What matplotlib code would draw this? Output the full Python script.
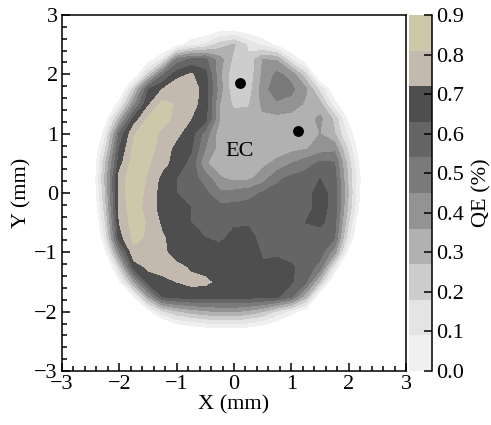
import numpy as np
import matplotlib
matplotlib.use("Agg")
import matplotlib.pyplot as plt
from matplotlib.colors import ListedColormap, BoundaryNorm
from matplotlib.ticker import MultipleLocator

plt.rcParams['font.family'] = ['Liberation Serif', 'DejaVu Serif']
plt.rcParams['mathtext.fontset'] = 'stix'

# measurement grid (mm)
x_mm = [-2.75, -2.5, -2.25, -2.0, -1.75, -1.5, -1.25, -1.0, -0.75, -0.5, -0.25,
        0.0, 0.25, 0.5, 0.75, 1.0, 1.25, 1.5, 1.75, 2.0, 2.25, 2.5]
y_mm = [2.75, 2.5, 2.25, 2.0, 1.75, 1.5, 1.25, 1.0, 0.75, 0.5, 0.25, 0.0,
        -0.25, -0.5, -0.75, -1.0, -1.25, -1.5, -1.75, -2.0, -2.25, -2.5]

# quantum efficiency (%) per scan line, left to right; negative = off cathode
qe_y275 = [-0.3, -0.3, -0.3, -0.3, -0.3, -0.3, -0.3, -0.2, -0.1, -0.08, -0.03, -0.03, -0.07, -0.1, -0.15, -0.2, -0.3, -0.3, -0.3, -0.3, -0.3, -0.3]
qe_y250 = [-0.3, -0.3, -0.3, -0.3, -0.3, -0.25, -0.15, -0.05, 0.05, 0.1, 0.22, 0.28, 0.16, 0.06, -0.03, -0.15, -0.3, -0.3, -0.3, -0.3, -0.3, -0.3]
qe_y225 = [-0.3, -0.3, -0.3, -0.3, -0.3, -0.06, 0.1, 0.48, 0.56, 0.56, 0.4, 0.24, 0.2, 0.36, 0.35, 0.1, -0.08, -0.3, -0.3, -0.3, -0.3, -0.3]
qe_y200 = [-0.3, -0.3, -0.3, -0.3, -0.11, 0.2, 0.52, 0.68, 0.73, 0.66, 0.38, 0.2, 0.2, 0.38, 0.47, 0.42, 0.2, -0.18, -0.3, -0.3, -0.3, -0.3]
qe_y175 = [-0.3, -0.3, -0.3, -0.15, 0.22, 0.62, 0.72, 0.8, 0.77, 0.68, 0.4, 0.2, 0.22, 0.4, 0.52, 0.47, 0.38, 0.15, -0.1, -0.3, -0.3, -0.3]
qe_y150 = [-0.3, -0.3, -0.16, 0.04, 0.42, 0.7, 0.84, 0.8, 0.76, 0.67, 0.36, 0.25, 0.26, 0.38, 0.43, 0.42, 0.34, 0.3, 0.03, -0.12, -0.3, -0.3]
qe_y125 = [-0.3, -0.3, -0.075, 0.3, 0.66, 0.82, 0.86, 0.77, 0.72, 0.66, 0.36, 0.31, 0.31, 0.34, 0.33, 0.31, 0.32, 0.38, 0.25, -0.034, -0.3, -0.3]
qe_y100 = [-0.3, -0.3, 0.06, 0.55, 0.8, 0.87, 0.78, 0.74, 0.67, 0.5, 0.31, 0.31, 0.31, 0.31, 0.31, 0.31, 0.31, 0.36, 0.28, 0.05, -0.13, -0.3]
qe_y075 = [-0.3, -0.19, 0.15, 0.63, 0.83, 0.85, 0.77, 0.69, 0.64, 0.45, 0.32, 0.3, 0.3, 0.31, 0.32, 0.33, 0.35, 0.4, 0.42, 0.15, -0.14, -0.3]
qe_y050 = [-0.3, -0.17, 0.25, 0.68, 0.86, 0.82, 0.75, 0.68, 0.6, 0.37, 0.31, 0.31, 0.32, 0.34, 0.38, 0.45, 0.5, 0.56, 0.55, 0.22, -0.1, -0.3]
qe_y025 = [-0.3, -0.16, 0.28, 0.76, 0.87, 0.8, 0.69, 0.63, 0.58, 0.5, 0.37, 0.33, 0.34, 0.4, 0.52, 0.56, 0.58, 0.63, 0.58, 0.25, -0.06, -0.3]
qe_y000 = [-0.3, -0.17, 0.26, 0.76, 0.87, 0.78, 0.68, 0.63, 0.59, 0.56, 0.47, 0.48, 0.5, 0.55, 0.57, 0.58, 0.6, 0.66, 0.6, 0.26, -0.08, -0.3]
qe_ym025 = [-0.3, -0.2, 0.22, 0.76, 0.86, 0.77, 0.68, 0.67, 0.63, 0.59, 0.57, 0.57, 0.58, 0.58, 0.58, 0.58, 0.6, 0.66, 0.6, 0.24, -0.11, -0.3]
qe_ym050 = [-0.3, -0.25, 0.17, 0.72, 0.85, 0.8, 0.7, 0.68, 0.63, 0.6, 0.59, 0.61, 0.62, 0.58, 0.58, 0.58, 0.63, 0.65, 0.58, 0.18, -0.2, -0.3]
qe_ym075 = [-0.3, -0.3, 0.1, 0.68, 0.83, 0.8, 0.73, 0.68, 0.67, 0.63, 0.6, 0.67, 0.66, 0.6, 0.58, 0.57, 0.58, 0.58, 0.55, 0.1, -0.21, -0.3]
qe_ym100 = [-0.3, -0.3, -0.04, 0.45, 0.79, 0.77, 0.74, 0.68, 0.68, 0.68, 0.68, 0.68, 0.68, 0.62, 0.61, 0.6, 0.58, 0.58, 0.4, -0.055, -0.3, -0.3]
qe_ym125 = [-0.3, -0.3, -0.22, 0.2, 0.66, 0.74, 0.76, 0.74, 0.71, 0.68, 0.68, 0.68, 0.68, 0.64, 0.67, 0.64, 0.6, 0.5, 0.1, -0.26, -0.3, -0.3]
qe_ym150 = [-0.3, -0.3, -0.3, -0.03, 0.35, 0.66, 0.69, 0.72, 0.74, 0.74, 0.69, 0.68, 0.68, 0.68, 0.67, 0.64, 0.55, 0.25, -0.17, -0.3, -0.3, -0.3]
qe_ym175 = [-0.3, -0.3, -0.3, -0.3, -0.02, 0.35, 0.63, 0.66, 0.67, 0.66, 0.66, 0.66, 0.66, 0.65, 0.64, 0.55, 0.3, -0.14, -0.3, -0.3, -0.3, -0.3]
qe_ym200 = [-0.3, -0.3, -0.3, -0.3, -0.3, -0.05, 0.15, 0.25, 0.3, 0.34, 0.36, 0.36, 0.33, 0.27, 0.15, 0.05, -0.075, -0.3, -0.3, -0.3, -0.3, -0.3]
qe_ym225 = [-0.3, -0.3, -0.3, -0.3, -0.3, -0.3, -0.2, -0.06, -0.02, 0.01, 0.03, 0.03, 0.01, -0.03, -0.1, -0.2, -0.3, -0.3, -0.3, -0.3, -0.3, -0.3]
qe_ym250 = [-0.3] * 22

qe_levels = [0.0, 0.09, 0.18, 0.27, 0.36, 0.45, 0.54, 0.63, 0.72, 0.81, 0.90]
qe_colors = ['#f0f0f0', '#e4e4e4', '#cdcdcd', '#b1b1b1', '#939393',
             '#7a7a7a', '#656565', '#4e4e4e', '#c3b9ae', '#cdc8a9']
cbar_ticks = [0.0, 0.1, 0.2, 0.3, 0.4, 0.5, 0.6, 0.7, 0.8, 0.9]

# marked spots and the label of the region
spot_x = [0.1, 1.11]
spot_y = [1.85, 1.05]
region_label = 'EC'
region_xy = (0.1, 0.70)

qe = np.array([qe_y275, qe_y250, qe_y225, qe_y200, qe_y175, qe_y150, qe_y125,
               qe_y100, qe_y075, qe_y050, qe_y025, qe_y000, qe_ym025, qe_ym050,
               qe_ym075, qe_ym100, qe_ym125, qe_ym150, qe_ym175, qe_ym200,
               qe_ym225, qe_ym250])
X, Y = np.meshgrid(np.array(x_mm), np.array(y_mm))

W, H = 491, 425
fig = plt.figure(figsize=(W / 100, H / 100), dpi=100)
ax = fig.add_axes([62 / W, 1 - 371 / H, 344 / W, 356 / H])
cax = fig.add_axes([409 / W, 1 - 371 / H, 23 / W, 356 / H])

cmap = ListedColormap(qe_colors)
norm = BoundaryNorm(qe_levels, cmap.N)
cs = ax.contourf(X, Y, qe, levels=qe_levels, cmap=cmap, norm=norm)

ax.plot(spot_x, spot_y, 'o', color='black', ms=6.8, mec='black')
ax.text(region_xy[0], region_xy[1], region_label, fontsize=16,
        ha='center', va='center')

ax.set_xlim(-3, 3)
ax.set_ylim(-3, 3)
ax.xaxis.set_major_locator(MultipleLocator(1))
ax.yaxis.set_major_locator(MultipleLocator(1))
ax.xaxis.set_minor_locator(MultipleLocator(0.2))
ax.yaxis.set_minor_locator(MultipleLocator(0.2))
ax.tick_params(which='both', direction='in', top=False, right=False,
               width=1.1, labelsize=16)
ax.tick_params(which='major', length=6, pad=3)
ax.tick_params(which='minor', length=3.5)
for sp in ax.spines.values():
    sp.set_linewidth(1.1)
ax.set_xlabel('X (mm)', fontsize=16, labelpad=1)
ax.set_ylabel('Y (mm)', fontsize=16, labelpad=2)

cb = fig.colorbar(cs, cax=cax, ticks=cbar_ticks, format='%.1f')
cb.outline.set_visible(False)
cax.plot([1, 1], [0, 1], transform=cax.transAxes, color='black',
         lw=1.1, clip_on=False)
cax.tick_params(direction='in', length=6, width=1.1, labelsize=16, pad=3,
                right=True, left=False)
cax.tick_params(which='minor', length=0)
cb.set_label('QE (%)', fontsize=16, labelpad=6)

fig.savefig('out.png', dpi=100)
